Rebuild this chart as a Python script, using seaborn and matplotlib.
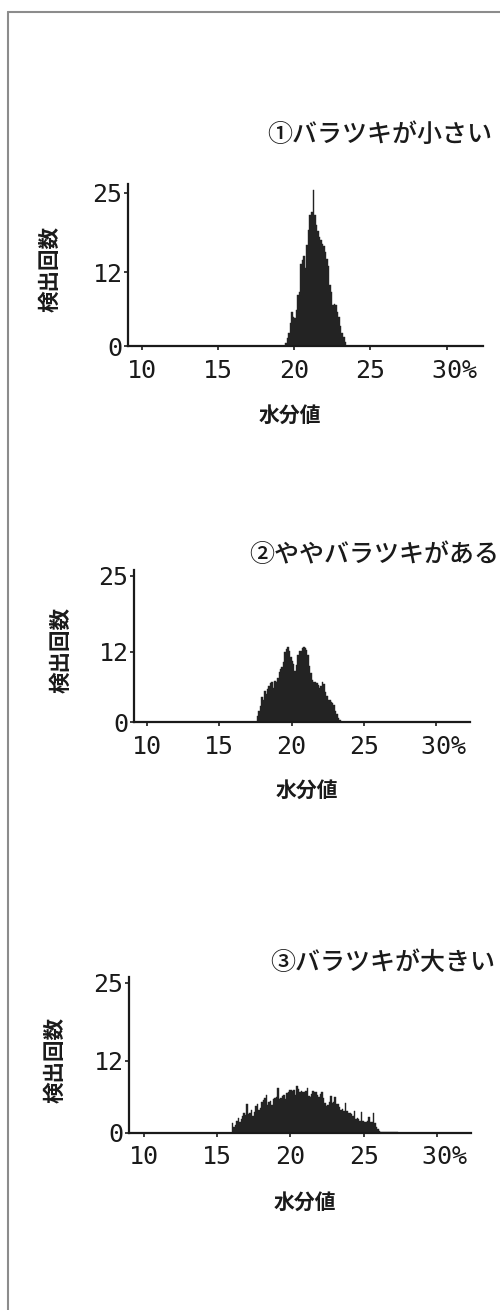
import numpy as np
import pandas as pd
import matplotlib
matplotlib.use('Agg')
import matplotlib.pyplot as plt
import seaborn as sns
from matplotlib.lines import Line2D

# テキスト
titles = ['①バラツキが小さい', '②ややバラツキがある', '③バラツキが大きい']
xlabel = '水分値'
ylabel = '検出回数'
xticks = [10, 15, 20, 25, 30]
xticklabels = ['10', '15', '20', '25', ' 30%']
yticks = [0, 12, 25]
yticklabels = ['0', '12', '25']

# ヒストグラム：水分値 0.1% 刻みの検出回数
bin_width = 0.1
start1 = 19.4
counts1 = [0.5, 1.3, 2.1, 3.7, 5.6, 4.8, 4.5, 5.8, 8.3, 8.8,
           13.3, 14.0, 14.6, 12.7, 16.4, 18.9, 21.4, 21.8, 25.5, 21.4,
           19.7, 18.7, 17.8, 17.3, 16.7, 16.3, 15.4, 14.1, 13.0, 9.9,
           8.8, 6.6, 6.9, 6.6, 5.5, 4.7, 3.3, 2.2, 1.4, 0.6]

start2 = 17.6
counts2 = [1.0, 1.8, 2.8, 4.2, 3.8, 5.3, 4.8, 5.6, 6.1, 6.6,
           6.8, 5.8, 7.0, 6.8, 7.6, 8.6, 9.0, 9.4, 10.2, 11.9,
           12.5, 12.8, 12.2, 11.1, 10.4, 10.0, 8.8, 9.8, 11.4, 12.2,
           12.2, 12.7, 12.8, 12.6, 12.4, 11.4, 9.5, 8.4, 7.2, 6.9,
           6.8, 6.6, 6.3, 5.8, 6.2, 6.8, 6.5, 5.2, 4.4, 3.8,
           3.7, 3.5, 3.2, 2.9, 1.9, 1.3, 0.7, 0.3]

start3 = 16.0
counts3 = [1.7, 1.0, 1.3, 2.0, 2.5, 1.8, 2.4, 2.9, 3.3, 3.0,
           4.8, 3.1, 3.4, 3.8, 2.9, 3.5, 4.5, 4.8, 3.9, 4.1,
           5.2, 5.5, 5.9, 6.4, 4.6, 5.2, 5.3, 4.6, 5.6, 5.8,
           6.0, 7.5, 5.6, 5.8, 6.1, 6.4, 5.7, 6.6, 6.9, 7.1,
           7.2, 7.0, 7.2, 6.4, 7.8, 7.3, 6.8, 7.0, 6.9, 6.8,
           7.0, 7.5, 6.2, 6.0, 6.5, 7.0,
           6.8, 6.9, 6.4, 6.0, 6.5, 6.9, 5.8, 5.0, 4.5, 4.7,
           5.2, 6.1, 5.0, 5.2, 6.0, 4.9, 4.8, 4.3, 3.9, 4.0,
           3.7, 5.0, 3.6, 3.4, 3.3, 3.1, 2.8, 3.7, 2.3, 2.5,
           2.3, 2.0, 3.5, 2.0, 1.8, 1.8, 2.0, 2.6, 1.8, 1.9,
           3.4, 1.7, 1.0, 0.6, 0.4,
           0.2, 0.2, 0.2, 0.2, 0.2, 0.2, 0.2, 0.2, 0.2, 0.2, 0.2, 0.2]

data = [(start1, counts1), (start2, counts2), (start3, counts3)]

# レイアウト（ピクセル）
W, H = 500, 1310
panels = [
    dict(l=128, r=483, t=184, b=346, xlim=(9.10, 32.38), ytop=26.4,
         title=(492, 135), xl=(290, 415), yl=(50, 269)),
    dict(l=134, r=470, t=570, b=722, xlim=(9.10, 32.35), ytop=26.0,
         title=(499, 555), xl=(307, 790), yl=(61, 650)),
    dict(l=129, r=471, t=977, b=1133, xlim=(9.0, 32.30), ytop=26.0,
         title=(495, 963), xl=(305, 1202), yl=(55, 1060)),
]

sns.set_style('ticks')
plt.rcParams['font.family'] = ['Noto Sans CJK JP', 'DejaVu Sans']

fig = plt.figure(figsize=(W / 100, H / 100), dpi=100)

for p, (start, counts), title in zip(panels, data, titles):
    ax = fig.add_axes([p['l'] / W, 1 - p['b'] / H,
                       (p['r'] - p['l']) / W, (p['b'] - p['t']) / H])
    edges = [round(start + bin_width * i, 2) for i in range(len(counts) + 1)]
    df = pd.DataFrame({'moisture': [e + bin_width / 2 for e in edges[:-1]],
                       'count': counts})
    sns.histplot(data=df, x='moisture', weights='count', bins=edges, ax=ax,
                 element='step', fill=True, color='#232323', alpha=1,
                 linewidth=0.3, edgecolor='#232323')
    ax.set_xlim(*p['xlim'])
    ax.set_ylim(0, p['ytop'])
    sns.despine(ax=ax)
    for s in ['left', 'bottom']:
        ax.spines[s].set_linewidth(1.6)
        ax.spines[s].set_color('#1a1a1a')
    ax.set_xticks(xticks)
    ax.set_xticklabels(xticklabels, fontfamily='DejaVu Sans Mono', fontsize=18)
    ax.set_yticks(yticks)
    ax.set_yticklabels(yticklabels, fontfamily='DejaVu Sans Mono', fontsize=18)
    ax.tick_params(axis='x', length=3, width=1.2, pad=6, colors='#1a1a1a')
    ax.tick_params(axis='y', length=3, width=1.2, pad=1, colors='#1a1a1a')
    ax.set_xlabel('')
    ax.set_ylabel('')

    fig.text(p['title'][0] / W, 1 - p['title'][1] / H, title,
             ha='right', va='center', fontsize=18, fontweight='medium',
             color='#1a1a1a')
    fig.text(p['xl'][0] / W, 1 - p['xl'][1] / H, xlabel,
             ha='center', va='center', fontsize=15, fontweight='bold',
             color='#1a1a1a')
    fig.text(p['yl'][0] / W, 1 - p['yl'][1] / H, ylabel, rotation=90,
             ha='center', va='center', fontsize=15.5, fontweight='bold',
             color='#1a1a1a')

# 外枠
fig.add_artist(Line2D([8 / W, 8 / W], [0, 1 - 12 / H], color='#8c8c8c', lw=1.5))
fig.add_artist(Line2D([8 / W, 1], [1 - 12 / H, 1 - 12 / H], color='#8c8c8c', lw=1.5))

fig.savefig('out.png', dpi=100, facecolor='white')
